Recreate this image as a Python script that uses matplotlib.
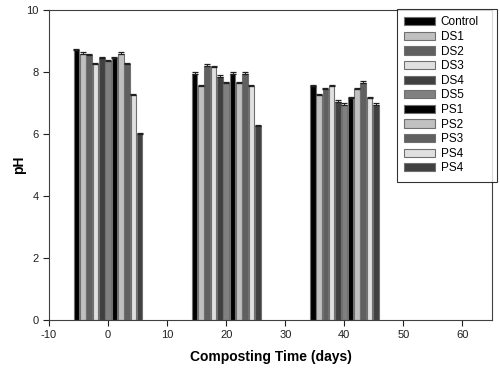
import numpy as np
import matplotlib
matplotlib.use("Agg")
import matplotlib.pyplot as plt

plt.rcParams['font.family'] = ['Liberation Sans', 'DejaVu Sans']
plt.rcParams['axes.unicode_minus'] = False

days = [0, 20, 40]
names = ['Control', 'DS1', 'DS2', 'DS3', 'DS4', 'DS5', 'PS1', 'PS2', 'PS3', 'PS4', 'PS4']
colors = ['#000000', '#c0c0c0', '#606060', '#e0e0e0', '#404040', '#808080',
          '#000000', '#c0c0c0', '#606060', '#e0e0e0', '#404040']

# pH per treatment at day 0, 20, 40
ph = [
    [8.7, 7.95, 7.55],
    [8.6, 7.55, 7.25],
    [8.55, 8.2, 7.45],
    [8.25, 8.15, 7.55],
    [8.45, 7.85, 7.05],
    [8.35, 7.65, 6.95],
    [8.45, 7.95, 7.15],
    [8.6, 7.65, 7.45],
    [8.25, 7.95, 7.65],
    [7.25, 7.55, 7.15],
    [6.0, 6.25, 6.95],
]
err = [
    [0.05, 0.05, 0.05],
    [0.04, 0.03, 0.04],
    [0.05, 0.05, 0.05],
    [0.03, 0.04, 0.04],
    [0.05, 0.05, 0.05],
    [0.04, 0.04, 0.04],
    [0.05, 0.05, 0.05],
    [0.06, 0.04, 0.05],
    [0.05, 0.05, 0.05],
    [0.05, 0.04, 0.04],
    [0.05, 0.05, 0.04],
]

fig = plt.figure(figsize=(5, 3.76), dpi=100)
ax = fig.add_axes([0.098, 0.149, 0.886, 0.824])

step = 1.07
w = 0.95
x0 = np.array(days, dtype=float)
for i in range(len(names)):
    xs = x0 + (i - 5) * step
    ax.bar(xs, ph[i], width=w, color=colors[i], edgecolor='#707070', linewidth=0.8,
           label=names[i], zorder=2)
    ax.errorbar(xs, ph[i], yerr=[[0] * 3, err[i]], fmt='none', ecolor='#202020',
                elinewidth=0.7, capsize=2.5, capthick=0.9, zorder=3)

ax.set_xlim(-10, 65)
ax.set_ylim(0, 10)
ax.set_xticks(range(-10, 61, 10))
ax.set_yticks(range(0, 11, 2))
ax.tick_params(direction='out', length=4, width=0.8, labelsize=8, colors='#202020')
for s in ax.spines.values():
    s.set_linewidth(0.8)
    s.set_color('#404040')

ax.set_xlabel('Composting Time (days)', fontsize=10, fontweight='bold', labelpad=7)
ax.set_ylabel('pH', fontsize=10, fontweight='bold', labelpad=0)

leg = fig.legend(loc='upper left', bbox_to_anchor=(0.794, 0.5, 0.2, 0.475), mode='expand',
                 fontsize=8.5, frameon=True, fancybox=False, borderaxespad=0,
                 handlelength=2.6, handleheight=0.7, labelspacing=0.22, borderpad=0.6,
                 handletextpad=0.5)
leg.get_frame().set_edgecolor('black')
leg.get_frame().set_linewidth(0.8)

fig.savefig('out.png', dpi=100)
